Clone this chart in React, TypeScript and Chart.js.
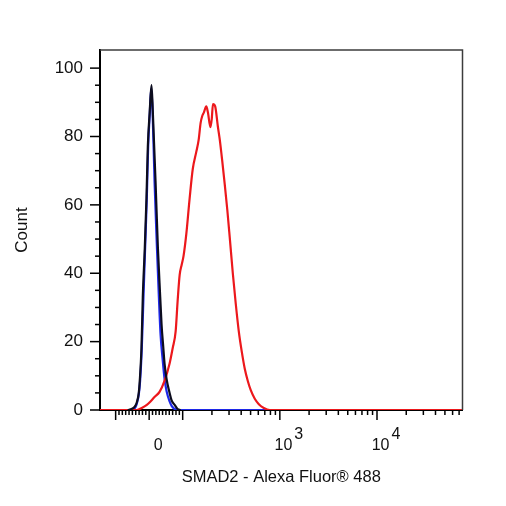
import { useEffect, useRef } from 'react';
import { Chart, registerables } from 'chart.js';
import type { Plugin } from 'chart.js';

Chart.register(...registerables);

const FONT = "'Liberation Sans', Arial, sans-serif";

// isotype control (black) – raw fluorescence vs count
const controlX = [-64, -52, -43, -37, -31, -28, -23, -19, -13, -8, -4, 1.5, 7, 11, 19, 26, 33, 37, 42, 46, 52, 61, 67, 76, 85, 94];
const controlCount = [0, 0.3, 1, 2.2, 5, 8.6, 18, 33, 47.5, 62, 77, 87, 95, 87, 67, 47.5, 33, 25, 18.5, 13.5, 9, 5, 2.8, 1.5, 0.3, 0];

// unlabelled control (blue)
const unlabelledX = [-52, -43, -37, -31, -27, -22, -17, -12, -7, -3, 2, 6, 10, 16, 23, 29, 34, 40, 46, 52, 61, 67, 76, 82, 76000];
const unlabelledCount = [0, 0.5, 1.8, 4.5, 8.5, 18, 33, 47.5, 62, 77, 87, 94, 88, 67, 48, 33, 22, 15, 9, 5.5, 2.5, 1.2, 0.3, 0, 0];

// SMAD2 stained (red)
const smadX = [-150, -37, -22, -7, 4, 16, 31, 46, 61, 70, 79, 85, 91, 97, 102, 109, 118, 127, 138, 146, 153, 159, 165, 175, 182, 193, 199, 205, 216, 230, 241, 255, 271, 288, 305, 328, 352, 378, 406, 436, 468, 502, 552, 608, 684, 789, 76000];
const smadCount = [0, 0, 0.6, 1.5, 2.5, 3.8, 5.3, 8.6, 13.6, 18, 23, 32, 39.5, 42.5, 45, 51.5, 62, 70.5, 75.5, 79, 84, 86, 87, 88.8, 87, 82.7, 85, 89.5, 88.8, 83, 79, 73, 66, 58.5, 50.5, 40, 31, 23, 17, 12, 8.5, 5.8, 3.3, 1.7, 0.6, 0, 0];

const yMajorTicks = [0, 20, 40, 60, 80, 100];
const yMinorTicks = [5, 10, 15, 25, 30, 35, 45, 50, 55, 65, 70, 75, 85, 90, 95];

const xMajorTicks = [-100, 0, 100, 1000, 10000];
const multiples = [1, 2, 3, 4, 5, 6, 7, 8, 9];
const xMinorTicks = [
  ...multiples.map((k) => -10 * k),
  ...multiples.map((k) => 10 * k),
  ...multiples.slice(1).map((k) => 100 * k),
  ...multiples.slice(1).map((k) => 1000 * k),
  ...multiples.slice(1, 7).map((k) => 10000 * k),
];

const xLabelValues = [0, 1000, 10000];
const xLabelBase = ['0', '10', '10'];
const xLabelExp = ['', '3', '4'];

// biexponential-like display: linear around zero, log above 100
const ZERO_POS = 1.655;
const LIN_SPAN = 0.345;
const toDisplay = (v: number) => {
  if (Math.abs(v) <= 100) return ZERO_POS + (v / 100) * LIN_SPAN;
  if (v > 0) return Math.log10(v);
  return ZERO_POS - LIN_SPAN - (Math.log10(-v) - 2);
};
const X_MIN = 1.149;
const X_MAX = 4.88;

const toPoints = (xs: number[], ys: number[]) => xs.map((v, i) => ({ x: toDisplay(v), y: ys[i] }));

const axisDecor: Plugin<'line'> = {
  id: 'axisDecor',
  afterDraw(chart) {
    const { ctx, chartArea, scales } = chart;
    const { left, right, top, bottom } = chartArea;
    const x = scales.x;
    const y = scales.y;
    ctx.save();
    ctx.strokeStyle = '#3c3c3c';
    ctx.lineWidth = 1.5;
    ctx.beginPath();
    ctx.moveTo(left, top);
    ctx.lineTo(right, top);
    ctx.lineTo(right, bottom);
    ctx.stroke();

    ctx.strokeStyle = '#000';
    ctx.lineWidth = 1.5;
    const seg = (x0: number, y0: number, x1: number, y1: number) => {
      ctx.beginPath();
      ctx.moveTo(x0, y0);
      ctx.lineTo(x1, y1);
      ctx.stroke();
    };
    yMajorTicks.forEach((v) => {
      const py = y.getPixelForValue(v);
      seg(left - 10, py, left, py);
    });
    yMinorTicks.forEach((v) => {
      const py = y.getPixelForValue(v);
      seg(left - 5, py, left, py);
    });
    xMajorTicks.forEach((v) => {
      const px = x.getPixelForValue(toDisplay(v));
      seg(px, bottom, px, bottom + 10);
    });
    xMinorTicks.forEach((v) => {
      const px = x.getPixelForValue(toDisplay(v));
      if (px > right) return;
      seg(px, bottom, px, bottom + 5);
    });

    ctx.fillStyle = '#111';
    ctx.font = `16px ${FONT}`;
    ctx.textAlign = 'left';
    ctx.textBaseline = 'alphabetic';
    xLabelValues.forEach((v, i) => {
      const px = x.getPixelForValue(toDisplay(v));
      const base = xLabelBase[i];
      const exp = xLabelExp[i];
      const wb = ctx.measureText(base).width;
      const we = exp ? ctx.measureText(exp).width + 2 : 0;
      const start = px + 9 - (wb + we) / 2;
      ctx.fillText(base, start, bottom + 40);
      if (exp) ctx.fillText(exp, start + wb + 2, bottom + 29);
    });
    ctx.restore();
  },
};

export default function App() {
  const canvasRef = useRef<HTMLCanvasElement>(null);

  useEffect(() => {
    document.body.style.margin = '0';
    const ctx = canvasRef.current?.getContext('2d');
    if (!ctx) return;

    const line = { borderWidth: 2.2, pointRadius: 0, cubicInterpolationMode: 'monotone' as const };

    const chart = new Chart(ctx, {
      type: 'line',
      data: {
        datasets: [
          {
            label: 'Isotype',
            data: toPoints(controlX, controlCount),
            borderColor: 'rgb(12, 12, 30)',
            ...line,
          },
          {
            label: 'SMAD2',
            data: toPoints(smadX, smadCount),
            borderColor: 'rgb(236, 24, 28)',
            ...line,
          },
          {
            label: 'Unlabelled',
            data: toPoints(unlabelledX, unlabelledCount),
            borderColor: 'rgb(30, 40, 232)',
            ...line,
          },
        ],
      },
      options: {
        responsive: false,
        animation: false,
        events: [],
        layout: { padding: { top: 50, right: 43.5, left: 0, bottom: 0 } },
        plugins: {
          legend: { display: false },
          tooltip: { enabled: false },
        },
        scales: {
          x: {
            type: 'linear',
            min: X_MIN,
            max: X_MAX,
            grid: { display: false },
            border: { display: true, color: '#000', width: 2 },
            ticks: { display: false },
            afterFit: (scale) => {
              scale.height = 96;
            },
            title: {
              display: true,
              text: 'SMAD2 - Alexa Fluor® 488',
              color: '#111',
              font: { family: FONT, size: 16.5 },
              padding: { top: 0, bottom: 19 },
            },
          },
          y: {
            type: 'linear',
            min: 0,
            max: 105.3,
            grid: { display: true, drawOnChartArea: false, drawTicks: false },
            border: { display: true, color: '#000', width: 2 },
            afterBuildTicks: (scale) => {
              scale.ticks = yMajorTicks.map((v) => ({ value: v }));
            },
            afterFit: (scale) => {
              scale.width = 100;
            },
            ticks: {
              color: '#111',
              padding: 17,
              font: { family: FONT, size: 17 },
            },
            title: {
              display: true,
              text: 'Count',
              color: '#111',
              font: { family: FONT, size: 17 },
              padding: { top: 12, bottom: 0 },
            },
          },
        },
      },
      plugins: [axisDecor],
    });

    return () => chart.destroy();
  }, []);

  return (
    <div style={{ width: 506, height: 506 }}>
      <canvas ref={canvasRef} width={506} height={506} style={{ display: 'block' }} />
    </div>
  );
}
